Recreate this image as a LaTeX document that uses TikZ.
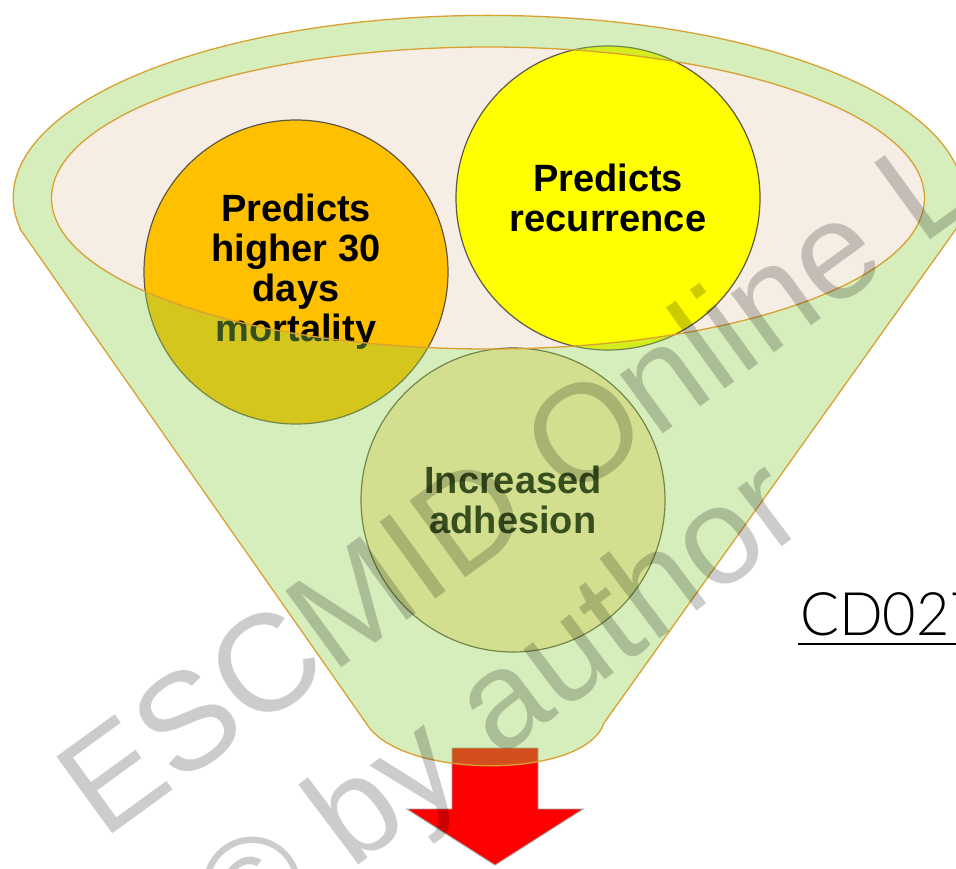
\documentclass[tikz,border=0pt]{standalone}
\usepackage{fontspec}
\setmainfont{Liberation Sans}
\IfFontExistsTF{Lato Light}
  {\newfontfamily\thinfont{Lato Light}[FakeStretch=0.96]}
  {\newfontfamily\thinfont{Liberation Sans}}

\definecolor{funnelgreen}{RGB}{145,210,79}
\definecolor{rimpeach}{RGB}{246,237,228}
\definecolor{rimline}{RGB}{217,160,50}
\definecolor{ballorange}{RGB}{255,192,0}
\definecolor{ballyellow}{RGB}{255,255,0}
\definecolor{ballpale}{RGB}{253,232,181}
\definecolor{balledge}{RGB}{95,88,70}
\definecolor{arrowred}{RGB}{255,0,0}

\tikzset{
  ball/.style={circle, minimum size=304pt, inner sep=0pt, draw=balledge,
    line width=1.2pt, align=center, text=black,
    font=\fontsize{38}{40}\selectfont\bfseries},
  rimstroke/.style={draw=rimline, line width=1.3pt},
  watermark/.style={inner sep=0pt, anchor=base west, text=black,
    text opacity=0.2, font=\fontsize{138}{150}\selectfont}
}

\begin{document}
\begin{tikzpicture}[x=1pt, y=-1pt]
  \useasboundingbox (0,0) rectangle (956,868);
  \clip (0,0) rectangle (956,868);

  % mouth of the funnel
  \fill[rimpeach] (488,198) ellipse [x radius=436.5, y radius=151];

  % outlet arrow
  \draw[draw=gray!75, line width=0.9pt, fill=arrowred]
    (452,748) -- (538,748) -- (538,809) -- (583,809) -- (495,865)
    -- (407,809) -- (452,809) -- cycle;

  % the three balls
  \node[ball, fill=ballorange] (mort) at (296,272)
    {Predicts\\higher 30\\days\\mortality};
  \node[ball, fill=ballyellow] (recur) at (608,198)
    {Predicts\\recurrence};
  \node[ball, fill=ballpale] (adh) at (513,500)
    {Increased\\adhesion};

  % translucent funnel body, leaving the mouth open
  \fill[funnelgreen, fill opacity=0.38, even odd rule]
    (20,229) -- (366,723) .. controls (400,780) and (585,780) .. (604,723)
    -- (956,229) arc [start angle=10, end angle=-190, x radius=475, y radius=182]
    -- cycle
    (488,198) ellipse [x radius=436.5, y radius=151];

  % funnel outlines
  \draw[rimstroke]
    (20,229) -- (366,723) .. controls (400,780) and (585,780) .. (604,723)
    -- (956,229) arc [start angle=10, end angle=-190, x radius=475, y radius=182]
    -- cycle;
  \draw[rimstroke] (488,198) ellipse [x radius=436.5, y radius=151];

  % strain label
  \node[inner sep=0pt, anchor=base west, font=\fontsize{60}{62}\thinfont]
    (cd) at (800,635) {CD027};
  \draw[line width=2pt] ([yshift=-9pt, xshift=-2pt]cd.base west)
    -- ([yshift=-9pt, xshift=40pt]cd.base east);

  % watermark
  \node[watermark, rotate=36] (wm1) at (103,841) {ESCMID Online L};
  \node[watermark, rotate=37] (wm2) at (240,955) {© by author};
\end{tikzpicture}
\end{document}
